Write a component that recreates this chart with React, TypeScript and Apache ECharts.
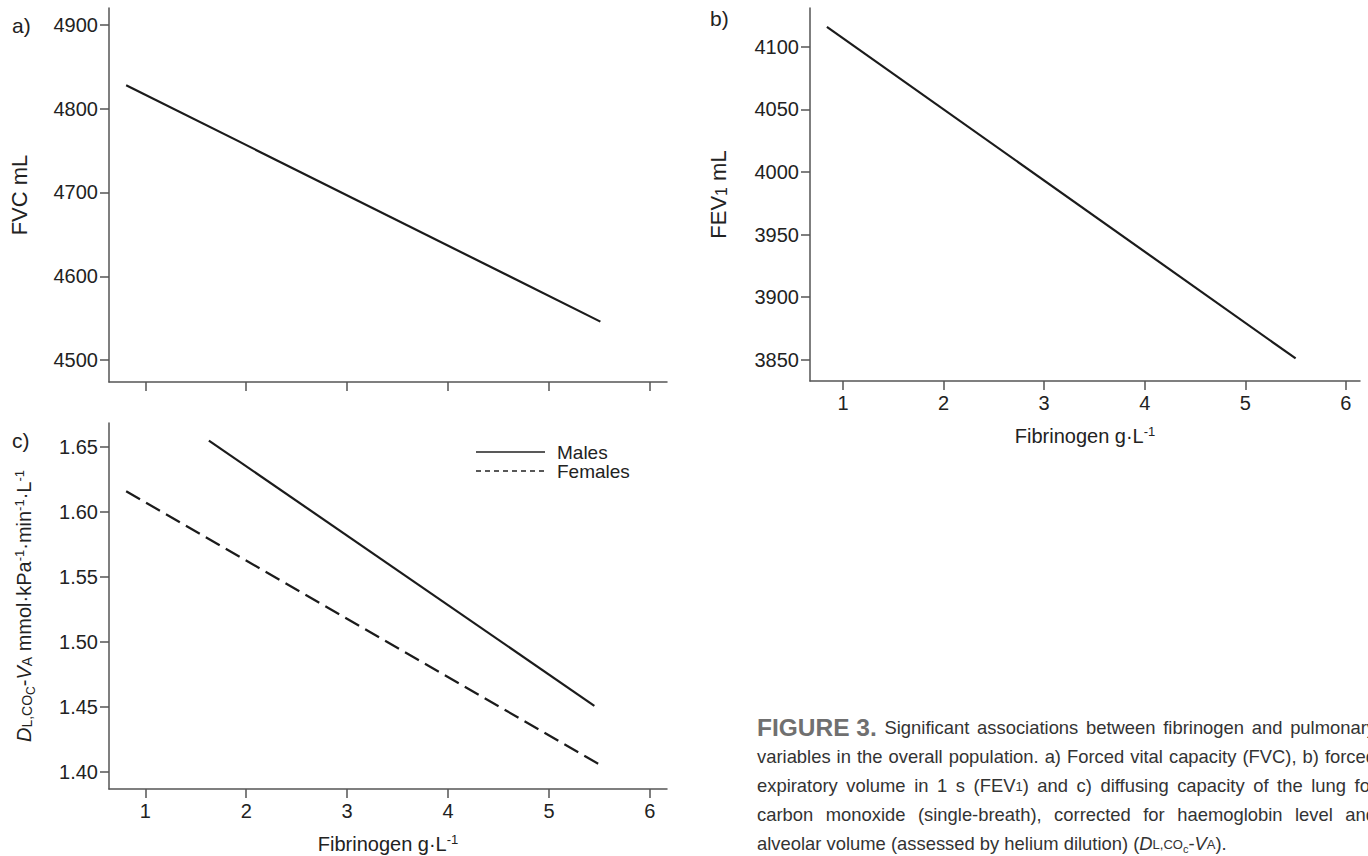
import React, { useEffect, useRef } from 'react';
import * as echarts from 'echarts';

const FONT = '"Liberation Sans", Arial, Helvetica, sans-serif';

// Panel a: FVC
const fibA = [0.81, 5.51];
const fvc = [4828, 4546];
// Panel b: FEV1
const fibB = [0.84, 5.5];
const fev1 = [4116, 3851];
// Panel c: DLCO/VA
const fibMales = [1.63, 5.45];
const dlcoMales = [1.655, 1.451];
const fibFemales = [0.81, 5.52];
const dlcoFemales = [1.616, 1.405];

const xTicks = [1, 2, 3, 4, 5, 6];
const fvcTicks = [4500, 4600, 4700, 4800, 4900];
const fevTicks = [3850, 3900, 3950, 4000, 4050, 4100];
const dlcoTicks = [1.4, 1.45, 1.5, 1.55, 1.6, 1.65];

const legendNames = ['Males', 'Females'];

const captionLines = [
  'FIGURE_3. Significant associations between fibrinogen and pulmonary',
  'variables in the overall population. a) Forced vital capacity (FVC), b) forced',
  'expiratory volume in 1 s (FEV1) and c) diffusing capacity of the lung for',
  'carbon monoxide (single-breath), corrected for haemoglobin level and',
  'alveolar volume (assessed by helium dilution) (DL,COc-VA).',
];

const AX = '#555';
const TXT = '#222';

const zip = (xs: number[], ys: number[]) => xs.map((x, i) => [x, ys[i]]);

function makeRich(base: number) {
  return {
    n: { fontSize: base, fontFamily: FONT, color: TXT, lineHeight: base + 6 },
    i: { fontSize: base, fontFamily: FONT, color: TXT, fontStyle: 'italic', lineHeight: base + 6 },
    s: { fontSize: Math.round(base * 0.72), fontFamily: FONT, color: TXT, lineHeight: base + 6, verticalAlign: 'bottom', padding: [0, 0, 3, 0] },
    sub: { fontSize: Math.round(base * 0.58), fontFamily: FONT, color: TXT, lineHeight: base + 6, verticalAlign: 'bottom' },
    sup: { fontSize: Math.round(base * 0.63), fontFamily: FONT, color: TXT, lineHeight: base + 6, verticalAlign: 'top', padding: [2, 0, 0, 0] },
  };
}
const xNameRich = makeRich(20);
const yNameRich = makeRich(22);
const cNameRich = makeRich(20);

function xAxis(gridIndex: number, min: number, max: number, showLabels: boolean, name: string) {
  return {
    type: 'value',
    gridIndex,
    min,
    max,
    name,
    nameLocation: 'middle',
    nameGap: 42,
    nameTextStyle: { rich: xNameRich },
    axisLine: { show: true, onZero: false, lineStyle: { color: AX, width: 1.5 } },
    axisTick: { show: true, customValues: xTicks, length: 9, lineStyle: { color: AX, width: 1.5 } },
    axisLabel: { show: showLabels, customValues: xTicks, margin: 12, fontSize: 20, color: TXT, fontFamily: FONT },
    splitLine: { show: false },
  };
}

function yAxis(gridIndex: number, min: number, max: number, ticks: number[], name: string, gap: number, rich: any, fmt?: (v: number) => string) {
  return {
    type: 'value',
    gridIndex,
    min,
    max,
    name,
    nameLocation: 'middle',
    nameRotate: 90,
    nameGap: gap,
    nameTextStyle: { rich },
    axisLine: { show: true, onZero: false, lineStyle: { color: AX, width: 1.5 } },
    axisTick: { show: true, customValues: ticks, length: 9, lineStyle: { color: AX, width: 1.5 } },
    axisLabel: {
      customValues: ticks,
      margin: 11,
      fontSize: 20,
      color: TXT,
      fontFamily: FONT,
      formatter: fmt ? fmt : (v: number) => String(v),
    },
    splitLine: { show: false },
  };
}

const CAP = 18.4;
const capRich: any = {
  n: { fontSize: CAP, fontFamily: FONT, fill: '#333', color: '#333', lineHeight: 22 },
  i: { fontSize: CAP, fontFamily: FONT, fontStyle: 'italic', fill: '#333', color: '#333', lineHeight: 22 },
  s: { fontSize: 13, fontFamily: FONT, fill: '#333', color: '#333', lineHeight: 22, verticalAlign: 'bottom', padding: [0, 0, 3, 0] },
  sub: { fontSize: 11, fontFamily: FONT, fill: '#333', color: '#333', lineHeight: 22, verticalAlign: 'bottom' },
  b: { fontSize: 24.5, fontFamily: FONT, fontWeight: 'bold', fill: '#707070', color: '#707070', lineHeight: 22 },
};

const special: Record<string, [string, string][]> = {
  'FIGURE_3.': [['FIGURE 3.', 'b']],
  '(FEV1)': [['(FEV', 'n'], ['1', 's'], [')', 'n']],
  '(DL,COc-VA).': [['(', 'n'], ['D', 'i'], ['L,CO', 's'], ['c', 'sub'], ['-', 'n'], ['V', 'i'], ['A', 's'], [').', 'n']],
};

function buildCaption(): any[] {
  const canvas = document.createElement('canvas');
  const ctx = canvas.getContext('2d')!;
  const fontOf = (k: string) => {
    const r = capRich[k];
    return `${r.fontStyle || 'normal'} ${r.fontWeight || 'normal'} ${r.fontSize}px ${FONT}`;
  };
  const x0 = 757;
  const right = 1376;
  const y0 = 727;
  const dy = 29;
  const els: any[] = [];
  captionLines.forEach((line, li) => {
    const words = line.split(' ').map((w) => special[w] || [[w, 'n']]);
    const widths = words.map((segs) =>
      segs.reduce((acc, [t, k]) => {
        ctx.font = fontOf(k);
        return acc + ctx.measureText(t).width;
      }, 0)
    );
    const total = widths.reduce((a, b) => a + b, 0);
    ctx.font = fontOf('n');
    const space = ctx.measureText(' ').width;
    const justify = li < captionLines.length - 1;
    const gap = justify ? (right - x0 - total) / (words.length - 1) : space;
    let x = x0;
    words.forEach((segs, wi) => {
      const text = segs.map(([t, k]) => `{${k}|${t}}`).join('');
      els.push({
        type: 'text',
        x,
        y: y0 + li * dy,
        silent: true,
        style: { text, rich: capRich, align: 'left', verticalAlign: 'middle' },
      });
      x += widths[wi] + gap;
    });
  });
  return els;
}

function buildLegend(): any[] {
  const x1 = 476;
  const x2 = 545;
  const ys = [452, 471];
  const dashes: any[] = [null, [5, 4]];
  const els: any[] = [];
  legendNames.forEach((nm, i) => {
    els.push({
      type: 'line',
      silent: true,
      shape: { x1, y1: ys[i], x2, y2: ys[i] },
      style: { stroke: '#222', lineWidth: 1.3, lineDash: dashes[i] },
    });
    els.push({
      type: 'text',
      x: 557,
      y: ys[i],
      silent: true,
      style: { text: nm, fontSize: 19, fontFamily: FONT, fill: TXT, verticalAlign: 'middle' },
    });
  });
  return els;
}

export default function App() {
  const ref = useRef<HTMLDivElement>(null);
  useEffect(() => {
    if (!ref.current) return;
    const chart = echarts.init(ref.current, undefined, { renderer: 'svg' });
    const lineStyle = { color: '#1b1b1b', width: 2.2 };
    const option: any = {
      animation: false,
      backgroundColor: '#ffffff',
      textStyle: { fontFamily: FONT },
      grid: [
        { left: 109, top: 8, width: 558, height: 374 },
        { left: 810, top: 8, width: 550, height: 373 },
        { left: 109, top: 423, width: 558, height: 366 },
      ],
      xAxis: [
        xAxis(0, 0.64, 6.17, false, ''),
        xAxis(1, 0.672, 6.14, true, '{n|Fibrinogen g·L}{sup|-1}'),
        xAxis(2, 0.64, 6.17, true, '{n|Fibrinogen g·L}{sup|-1}'),
      ],
      yAxis: [
        yAxis(0, 4474, 4920, fvcTicks, '{n|FVC mL}', 76, yNameRich),
        yAxis(1, 3833, 4131, fevTicks, '{n|FEV}{s|1}{n| mL}', 78, yNameRich),
        yAxis(2, 1.387, 1.6685, dlcoTicks,
          '{i|D}{s|L,CO}{sub|C}{n|-}{i|V}{s|A}{n| mmol·kPa}{sup|-1}{n|·min}{sup|-1}{n|·L}{sup|-1}', 72, cNameRich,
          (v: number) => v.toFixed(2)),
      ],
      series: [
        { name: 'FVC', type: 'line', xAxisIndex: 0, yAxisIndex: 0, data: zip(fibA, fvc), symbol: 'none', showSymbol: false, lineStyle, itemStyle: { color: '#1b1b1b' }, silent: true },
        { name: 'FEV1', type: 'line', xAxisIndex: 1, yAxisIndex: 1, data: zip(fibB, fev1), symbol: 'none', showSymbol: false, lineStyle, itemStyle: { color: '#1b1b1b' }, silent: true },
        { name: legendNames[0], type: 'line', xAxisIndex: 2, yAxisIndex: 2, data: zip(fibMales, dlcoMales), symbol: 'none', showSymbol: false, lineStyle, itemStyle: { color: '#1b1b1b' }, silent: true },
        { name: legendNames[1], type: 'line', xAxisIndex: 2, yAxisIndex: 2, data: zip(fibFemales, dlcoFemales), symbol: 'none', showSymbol: false, lineStyle: { ...lineStyle, type: [16, 7] }, itemStyle: { color: '#1b1b1b' }, silent: true },
      ],
      graphic: [
        { type: 'text', x: 12, y: 25, style: { text: 'a)', fontSize: 21, fontFamily: FONT, fill: TXT, verticalAlign: 'middle' } },
        { type: 'text', x: 710, y: 18, style: { text: 'b)', fontSize: 21, fontFamily: FONT, fill: TXT, verticalAlign: 'middle' } },
        { type: 'text', x: 12, y: 440, style: { text: 'c)', fontSize: 21, fontFamily: FONT, fill: TXT, verticalAlign: 'middle' } },
        ...buildLegend(),
        ...buildCaption(),
      ],
    };
    chart.setOption(option);
    return () => chart.dispose();
  }, []);
  return <div ref={ref} style={{ position: 'fixed', left: 0, top: 0, width: 1368, height: 856 }} />;
}
